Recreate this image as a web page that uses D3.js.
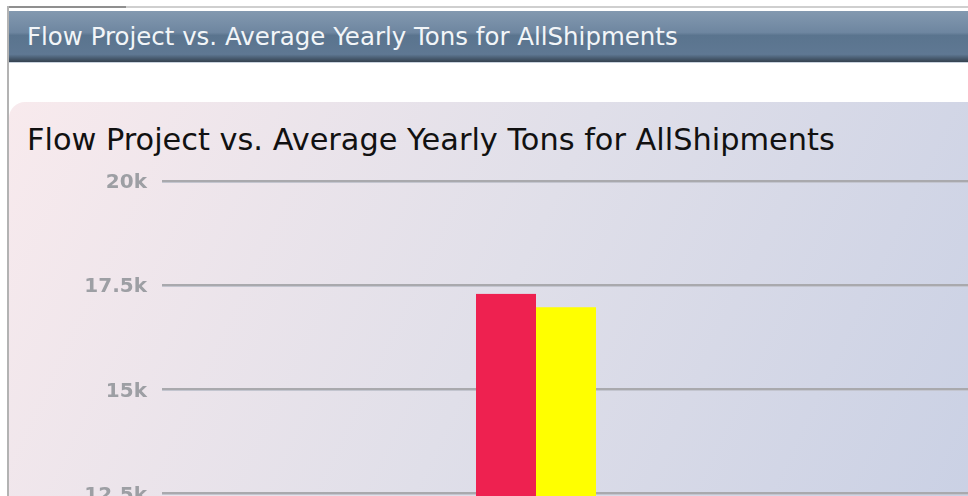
<!DOCTYPE html>
<html>
<head>
<meta charset="utf-8">
<script src="https://cdn.jsdelivr.net/npm/d3@7/dist/d3.min.js"></script>
<style>
  html, body { margin: 0; padding: 0; background: #ffffff; overflow: hidden; }
  svg { display: block; }
</style>
</head>
<body>
<script>
// Chart data
const titleText = "Flow Project vs. Average Yearly Tons for AllShipments";
const categories = ["AllShipments"];
const seriesNames = ["Flow Project", "Average Yearly Tons"];
const seriesColors = ["#ee2150", "#ffff00"];
const flowProject = [17290];
const averageYearlyTons = [16970];
const tickValues = [0, 2500, 5000, 7500, 10000, 12500, 15000, 17500, 20000];
const tickLabels = ["0", "2.5k", "5k", "7.5k", "10k", "12.5k", "15k", "17.5k", "20k"];

const W = 968, H = 1100;
const svg = d3.select("body").append("svg").attr("width", W).attr("height", H);
const defs = svg.append("defs");

// Portlet header gradient
const hg = defs.append("linearGradient").attr("id", "hdr").attr("x1", 0).attr("y1", 0).attr("x2", 0).attr("y2", 1);
[[0, "#8399b0"], [0.42, "#6e86a0"], [0.48, "#5a748e"], [0.85, "#5f7893"], [0.92, "#4a5e73"], [1, "#35424f"]]
  .forEach(([o, c]) => hg.append("stop").attr("offset", o).attr("stop-color", c));

// Chart panel background gradient
const pg = defs.append("linearGradient").attr("id", "panel").attr("gradientUnits", "userSpaceOnUse")
  .attr("x1", 9).attr("y1", 102).attr("x2", 968).attr("y2", 560);
[[0, "#f8eaed"], [0.5, "#e0dfe9"], [1, "#c9d0e4"]]
  .forEach(([o, c]) => pg.append("stop").attr("offset", o).attr("stop-color", c));

const soft = defs.append("filter").attr("id", "soft").attr("x", -0.1).attr("y", -0.3).attr("width", 1.2).attr("height", 1.6);
soft.append("feGaussianBlur").attr("stdDeviation", 0.45);

// Outer frame
svg.append("rect").attr("x", 8).attr("y", 6).attr("width", W - 8).attr("height", 2).attr("fill", "#cfcfcf");
svg.append("rect").attr("x", 8).attr("y", 6).attr("width", 118).attr("height", 2).attr("fill", "#8f8f8f");
svg.append("rect").attr("x", 7).attr("y", 6).attr("width", 2).attr("height", H).attr("fill", "#b3b3b3");

// Header bar
svg.append("rect").attr("x", 9).attr("y", 11).attr("width", W - 9).attr("height", 51).attr("fill", "url(#hdr)");
svg.append("rect").attr("x", 9).attr("y", 62).attr("width", W - 9).attr("height", 1).attr("fill", "#c9d3de");

function fitText(sel, target) {
  const w = sel.node().getComputedTextLength();
  const fs = parseFloat(sel.attr("font-size"));
  sel.attr("font-size", (fs * target / w).toFixed(2));
}

const hdrText = svg.append("text").attr("x", 27).attr("y", 45)
  .attr("font-family", "DejaVu Sans, Verdana, sans-serif").attr("font-size", 19)
  .attr("fill", "#f2f5f8").text(titleText);
fitText(hdrText, 651);

// Chart panel
svg.append("rect").attr("x", 9).attr("y", 102).attr("width", W + 40).attr("height", H).attr("rx", 16)
  .attr("fill", "url(#panel)");

const chartTitle = svg.append("text").attr("x", 27).attr("y", 150)
  .attr("font-family", "DejaVu Sans, Lucida Grande, sans-serif").attr("font-size", 24)
  .attr("fill", "#111111").text(titleText);
fitText(chartTitle, 808);

// Scales
const plotLeft = 162, plotRight = 910, gridRight = W + 20;
const y = d3.scaleLinear().domain([0, 20000]).range([1014.3, 181]);
const x0 = d3.scaleBand().domain(categories).range([plotLeft, plotRight]).paddingOuter(2.617).paddingInner(0);
const x1 = d3.scaleBand().domain(seriesNames).range([0, x0.bandwidth()]);

// Grid lines and y axis labels
const grid = svg.append("g");
grid.selectAll("line.shadow").data(tickValues).join("line").attr("class", "shadow")
  .attr("x1", plotLeft).attr("x2", gridRight)
  .attr("y1", d => Math.round(y(d)) + 1.5).attr("y2", d => Math.round(y(d)) + 1.5)
  .attr("stroke", "#c3c5cf").attr("stroke-width", 1);
grid.selectAll("line.main").data(tickValues).join("line").attr("class", "main")
  .attr("x1", plotLeft).attr("x2", gridRight)
  .attr("y1", d => Math.round(y(d))).attr("y2", d => Math.round(y(d)))
  .attr("stroke", "#a9a9ad").attr("stroke-width", 2);

const yAxis = d3.axisLeft(y).tickValues(tickValues).tickSize(0).tickPadding(0)
  .tickFormat((d, i) => tickLabels[i]);
const axisG = svg.append("g").attr("transform", `translate(147,0)`).call(yAxis);
axisG.select(".domain").remove();
axisG.selectAll("text")
  .attr("font-family", "DejaVu Sans, Verdana, sans-serif").attr("font-weight", "bold")
  .attr("font-size", 20).attr("fill", "#9d9fa4").attr("dy", "0.34em")
  .attr("filter", "url(#soft)");

// Bars
const rows = categories.map((c, i) => ({ cat: c, values: [flowProject[i], averageYearlyTons[i]] }));
const groups = svg.append("g").selectAll("g").data(rows).join("g")
  .attr("transform", d => `translate(${x0(d.cat)},0)`);
groups.selectAll("rect").data(d => d.values.map((v, j) => ({ name: seriesNames[j], v, color: seriesColors[j] })))
  .join("rect")
  .attr("x", d => x1(d.name)).attr("width", x1.bandwidth())
  .attr("y", d => y(d.v)).attr("height", d => y(0) - y(d.v))
  .attr("fill", d => d.color);
</script>
</body>
</html>
